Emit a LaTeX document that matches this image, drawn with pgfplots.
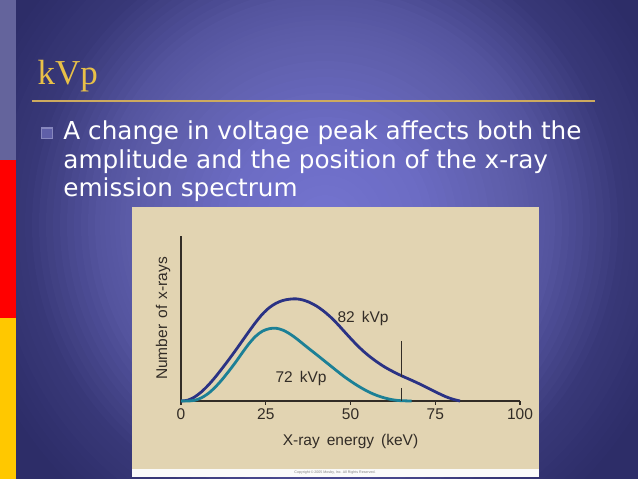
\documentclass[border=0pt]{standalone}
\usepackage{fontspec}
\setmainfont{Liberation Sans}
\newfontfamily\verd{DejaVu Sans}
\newfontfamily\tms{Liberation Serif}
\usepackage{pgfplots}
\pgfplotsset{compat=1.18}
\definecolor{bgA}{RGB}{116,116,208}
\definecolor{bgB}{RGB}{108,108,196}
\definecolor{bgC}{RGB}{95,95,172}
\definecolor{bgD}{RGB}{84,84,158}
\definecolor{bgE}{RGB}{56,56,120}
\definecolor{bgF}{RGB}{45,45,104}
\definecolor{barlav}{RGB}{100,100,156}
\definecolor{barred}{RGB}{255,0,0}
\definecolor{baryel}{RGB}{255,200,0}
\definecolor{titlegold}{RGB}{232,192,72}
\definecolor{rulegold}{RGB}{205,170,95}
\definecolor{bulletline}{RGB}{135,135,190}
\definecolor{bulletfill}{RGB}{95,95,168}
\definecolor{beige}{RGB}{226,212,178}
\definecolor{axiscol}{RGB}{50,44,38}
\definecolor{navycurve}{RGB}{42,50,132}
\definecolor{tealcurve}{RGB}{28,128,150}
\begin{document}
\begin{tikzpicture}[x=1bp,y=1bp]
\path[use as bounding box] (0,0) rectangle (638,479);
\begin{scope}
\clip (0,0) rectangle (638,479);
\fill[bgF] (0,0) rectangle (638,479);
\foreach \rin/\rout/\cin/\cout in {300/370/bgE/bgF, 230/300/bgD/bgE, 180/230/bgC/bgD, 100/180/bgB/bgC, 0/100/bgA/bgB} {
  \foreach \k in {0,...,9} {
    \pgfmathsetmacro\r{\rout-(\rout-\rin)*\k/10}
    \pgfmathtruncatemacro\p{100-10*\k}
    \fill[\cout!\p!\cin] (325,254) circle (\r);
  }
}
\fill[bgA] (325,254) circle (4);
\end{scope}
% left bar
\fill[barlav] (0,319) rectangle (16,479);
\fill[barred] (0,161) rectangle (16,319);
\fill[baryel] (0,0) rectangle (16,161);
% title and rule
\node[anchor=base west, inner sep=0, text=titlegold, font=\tms\fontsize{35bp}{38bp}\selectfont] at (37.5,394) {kVp};
\draw[rulegold, line width=1.5bp] (32.3,378) -- (595,378);
% bullet
\draw[bulletline, fill=bulletfill, line width=1.6bp] (41.5,340.5) rectangle (52.5,351);
\node[anchor=base west, inner sep=0, text=white, font=\verd\fontsize{24.7bp}{28bp}\selectfont] at (63.3,339) {A change in voltage peak affects both the};
\node[anchor=base west, inner sep=0, text=white, font=\verd\fontsize{24.7bp}{28bp}\selectfont] at (63.3,310.7) {amplitude and the position of the x-ray};
\node[anchor=base west, inner sep=0, text=white, font=\verd\fontsize{24.7bp}{28bp}\selectfont] at (63.3,282.3) {emission spectrum};
% inset
\fill[beige] (132,10) rectangle (539,272);
\fill[white!96!gray] (132,2) rectangle (539,10);
\node[font=\fontsize{3.6bp}{4bp}\selectfont, text=gray] at (335,6) {Copyright \textcopyright\ 2005 Mosby, Inc. All Rights Reserved.};
\begin{axis}[
  at={(181bp,78bp)}, anchor=south west,
  scale only axis, width=339bp, height=165bp,
  xmin=0, xmax=100, ymin=0, ymax=100,
  axis x line*=bottom, axis y line*=left,
  axis line style={axiscol, line width=1.2bp, -},
  every outer x axis line/.append style={-},
  every outer y axis line/.append style={-},
  xtick={0,25,50,75,100}, ytick=\empty,
  tick align=outside, major tick length=4bp,
  x tick style={axiscol, line width=1.1bp},
  /pgf/number format/assume math mode=true,
  tick label style={text=axiscol, font=\fontsize{15.5bp}{18bp}\selectfont},
  label style={text=axiscol, font=\fontsize{15.5bp}{18bp}\selectfont},
  xlabel={X-ray\hspace{0.45em}energy\hspace{0.45em}(keV)},
  ylabel={Number\hspace{0.4em}of\hspace{0.4em}x-rays},
  xlabel style={at={(axis description cs:0.5,-0.248)}, anchor=center},
  ylabel style={at={(axis description cs:-0.053,0.5)}, anchor=center},
  clip=false,
]
\addplot[navycurve, line width=2.8bp, smooth] coordinates {
(0,0) (2,0.5) (4,2.4) (6,5.5) (8,9.5) (10,14.2) (12,19.4) (14,24.8) (16,30.4) (18,36.2) (20,42.0) (22,47.6) (24,52.6) (26,56.5) (28,59.2) (30,60.9) (32,61.7) (34,61.9) (36,61.2) (38,59.7) (40,57.5) (42,54.6) (44,51.1) (46,47.0) (48,42.5) (50,38.0) (52,33.7) (54,29.8) (56,26.4) (58,23.4) (60,20.7) (62,18.4) (64,16.3) (66,14.4) (68,12.6) (70,10.7) (72,8.7) (74,6.6) (76,4.6) (78,2.7) (80,1.2) (82.3,0)
};
\addplot[tealcurve, line width=2.8bp, smooth] coordinates {
(0,0) (2,0) (4,0.4) (6,1.9) (8,4.5) (10,8.2) (12,12.7) (14,17.8) (16,23.2) (18,29.0) (20,34.6) (22,39.2) (24,42.3) (26,43.8) (28,44.1) (30,43.0) (32,40.8) (34,37.9) (36,34.6) (38,31.3) (40,28.1) (42,24.8) (44,21.5) (46,18.2) (48,15.0) (50,12.1) (52,9.4) (54,7.0) (56,4.9) (58,3.2) (60,1.9) (62,0.9) (64,0.3) (66,0.1) (68,0)
};
\addplot[axiscol, line width=1.3bp] coordinates {(65,36.5) (65,14.8)};
\addplot[axiscol, line width=1.3bp] coordinates {(65,8) (65,0)};
\node[text=axiscol, font=\fontsize{15.5bp}{18bp}\selectfont] at (axis cs:53.7,50) {82\hspace{0.45em}kVp};
\node[text=axiscol, font=\fontsize{15.5bp}{18bp}\selectfont] at (axis cs:35.4,13.7) {72\hspace{0.45em}kVp};
\end{axis}
\end{tikzpicture}
\end{document}
